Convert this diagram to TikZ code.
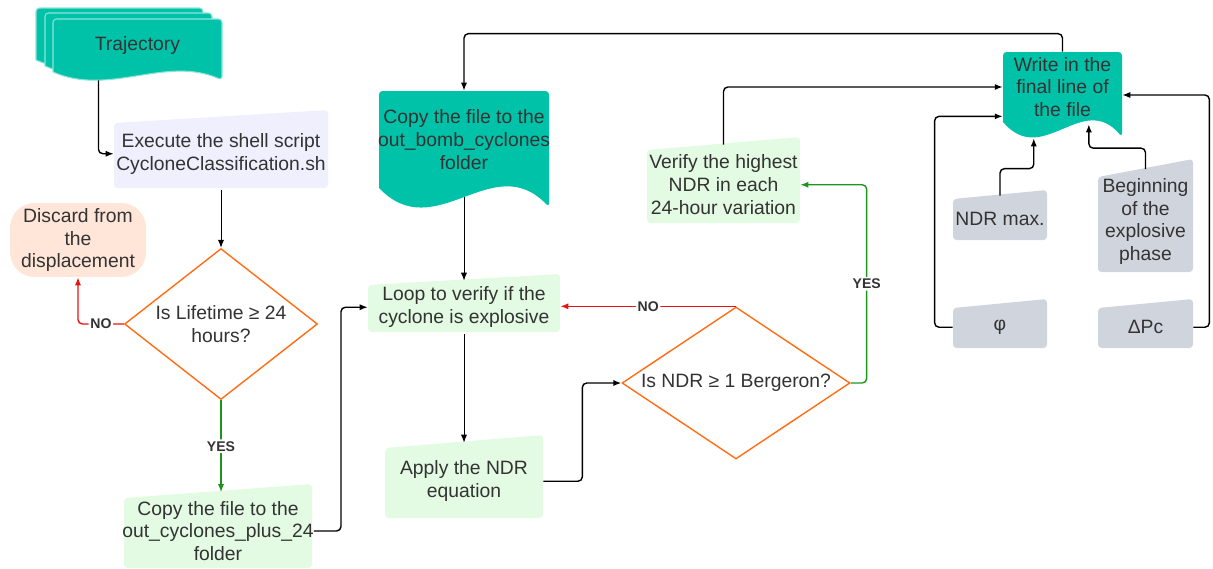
\documentclass[tikz,border=0pt]{standalone}
\usepackage{fontspec}
\setmainfont{Liberation Sans}
\usetikzlibrary{arrows.meta,calc,positioning,shapes.geometric}

\definecolor{docteal}{RGB}{0,194,168}
\definecolor{boxgreen}{RGB}{227,250,227}
\definecolor{execlav}{RGB}{239,239,253}
\definecolor{discardpeach}{RGB}{255,230,217}
\definecolor{infogray}{RGB}{208,213,221}
\definecolor{decorange}{RGB}{255,110,20}
\definecolor{nored}{RGB}{232,20,20}
\definecolor{yesgreen}{RGB}{30,150,30}
\definecolor{txtgray}{RGB}{51,51,51}

\tikzset{
	txt/.style={text=txtgray, align=center, font=\fontsize{11}{13}\selectfont, inner sep=0pt},
	conn/.style={draw=black, line width=0.8pt, rounded corners=2.5pt, -{Latex[length=4.5pt,width=3.5pt]}},
	thinconn/.style={conn, line width=0.55pt},
	yesconn/.style={conn, draw=yesgreen},
	noconn/.style={conn, draw=nored},
	lbl/.style={fill=white, text=txtgray, font=\bfseries\fontsize{8}{9}\selectfont, inner sep=1pt},
	decision/.style={diamond, draw=decorange, line width=0.8pt, fill=white, txt}
}

\newcommand{\slantbox}[8]{%
	\fill[#2, rounded corners=2pt] (#3,#5) -- (#4,#6) -- (#4,#7) -- (#3,#7) -- cycle;
	\node[txt, minimum width={(#4-#3)*0.02cm}, minimum height={(#7-(#5+#6)/2)*0.02cm}] (#1) at ({(#3+#4)/2},{(#5+#6+2*#7)/4+1.5}) {#8};
}

\newcommand{\docshape}[8][]{%
	\pgfmathsetmacro{\docbase}{#6-#7}
	\fill[docteal, #1] (#4,#6) .. controls ({#3+2*(#4-#3)/3},{#6-3.11*#7}) and ({#3+(#4-#3)/3},{#6+2.11*#7}) .. (#3,\docbase) [rounded corners=2pt] -- (#3,#5) -- (#4,#5) -- cycle;
	\node[txt, minimum width={(#4-#3)*0.02cm}, minimum height={(\docbase-#5)*0.02cm}] (#2) at ({(#3+#4)/2},{(#5+\docbase)/2}) {#8};
}

\begin{document}
\begin{tikzpicture}[x=0.02cm, y=-0.02cm]
	\useasboundingbox (0,0) rectangle (1213,568);
	
	\docshape[draw=white!55!docteal, line width=0.6pt]{traj3}{36}{203}{8}{68}{8}{}
	\docshape[draw=white!55!docteal, line width=0.6pt]{traj2}{45}{212}{13}{74}{8}{}
	\docshape[draw=white!55!docteal, line width=0.6pt]{traj}{53}{222}{19}{80}{8}{Trajectory}
	\slantbox{exec}{execlav}{114}{328}{123}{110}{188}{Execute the shell script\\CycloneClassification.sh}
	\node[txt, fill=discardpeach, rounded corners=14pt, minimum width=2.72cm, minimum height=1.48cm] (discard) at (78,240) {Discard from\\the\\displacement};
	\node[decision, aspect=1.28, minimum width=3.86cm, minimum height=3.02cm] (life) at (221,324) {Is Lifetime ≥ 24\\hours?};
	\slantbox{copy24}{boxgreen}{124}{312}{498}{484}{568}{Copy the file to the\\out\_cyclones\_plus\_24\\folder}
	
	\docshape{bomb}{379}{549}{91}{207}{19}{Copy the file to the\\out\_bomb\_cyclones\\folder}
	\slantbox{loop}{boxgreen}{368}{560}{285}{274}{332}{Loop to verify if the\\cyclone is explosive}
	\slantbox{apply}{boxgreen}{385}{543}{448}{435}{518}{Apply the NDR\\equation}
	\node[decision, aspect=1.5, minimum width=4.56cm, minimum height=3.04cm] (ndr) at (736,383) {Is NDR ≥ 1 Bergeron?};
	\slantbox{verify}{boxgreen}{647}{800}{150}{137}{223}{Verify the highest\\NDR in each\\24-hour variation}
	
	\docshape{write}{1003}{1122}{52}{137}{15}{Write in the\\final line of\\the file}
	\slantbox{ndrmax}{infogray}{953}{1047}{199}{190}{240}{NDR max.}
	\slantbox{begin}{infogray}{1098}{1193}{177}{159}{272}{Beginning\\of the\\explosive\\phase}
	\slantbox{phi}{infogray}{953}{1047}{308}{299}{348}{φ}
	\slantbox{dpc}{infogray}{1098}{1193}{308}{299}{348}{ΔPc}
	
	\coordinate (trajout) at ($(traj.south west)!0.27!(traj.south east)+(0,8)$);
	\draw[conn] (trajout) |- (exec.west);
	\draw[thinconn] (exec.south) -- (life.north);
	\draw[noconn] (life.west) -| node[lbl, pos=0.25] {NO} (discard.south);
	\draw[yesconn] (life.south) -- node[lbl] {YES} (life.south |- copy24.north);
	\draw[conn] (copy24.east) -- ++(27,0) |- (loop.west);
	\draw[thinconn] ($(bomb.south)+(0,9)$) -- (loop.north);
	\draw[thinconn] (loop.south) -- (apply.north);
	\draw[conn] (apply.east) -- ++(39,0) |- (ndr.west);
	\draw[noconn] (ndr.north) -- node[lbl] {NO} (ndr.north -| loop.east);
	\draw[yesconn] (ndr.east) -- ++(16,0) |- node[lbl, pos=0.25] {YES} (verify.east);
	\draw[conn] (verify.north) |- (write.west);
	\draw[conn] (write.north) -- ++(0,-18) -| (bomb.north);
	
	\coordinate (wdip) at ($(write.south west)!0.26!(write.south east)+(0,16)$);
	\coordinate (wpeak) at ($(write.south west)!0.72!(write.south east)+(0,2)$);
	\draw[conn] (ndrmax.north) -- ++(0,-27) -| (wdip);
	\draw[conn] (begin.north) -- ++(0,-21) -| (wpeak);
	\draw[conn] (phi.west) -- ++(-18,0) |- ($(write.south west)+(0,-6)$);
	\draw[conn] (dpc.east) -- ++(16,0) |- ($(write.east)+(0,8)$);
\end{tikzpicture}
\end{document}
